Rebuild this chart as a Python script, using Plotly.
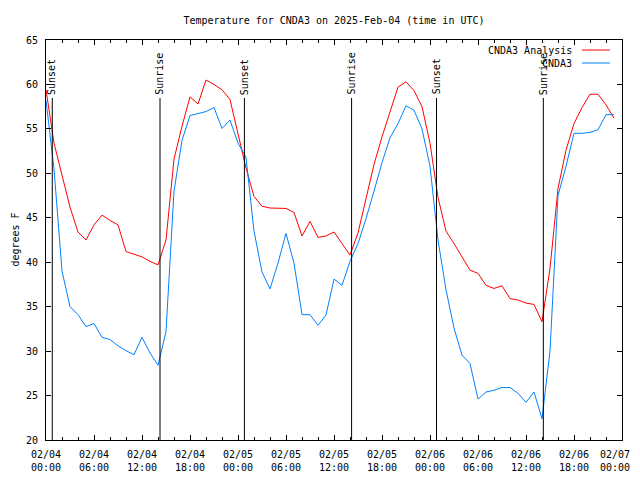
import pandas as pd
import plotly.graph_objects as go

start_time = "2025-02-04 00:00"
analysis_temp = [59.4, 53.4, 49.8, 46.2, 43.4, 42.5, 44.2, 45.3, 44.7, 44.2, 41.2, 40.9,
                 40.6, 40.1, 39.7, 42.5, 51.6, 55.3, 58.6, 57.8, 60.5, 60.0, 59.4, 58.3,
                 54.6, 50.6, 47.4, 46.3, 46.1, 46.05, 46.05, 45.6, 42.95, 44.6, 42.8, 42.95,
                 43.4, 42.1, 40.8, 43.3, 47.1, 51.0, 54.1, 56.9, 59.7, 60.3, 59.3, 57.5,
                 53.4, 47.3, 43.5, 42.1, 40.6, 39.1, 38.75, 37.4, 37.05, 37.35, 35.9, 35.75,
                 35.4, 35.25, 33.3, 39.3, 48.3, 52.6, 55.6, 57.4, 58.9, 58.9, 57.7, 56.2]
obs_temp = [58.2, 50.5, 39.0, 35.0, 34.1, 32.75, 33.1, 31.55, 31.3, 30.6, 30.05, 29.6,
            31.55, 29.8, 28.4, 32.2, 48.0, 53.7, 56.5, 56.7, 56.95, 57.4, 55.05, 56.0,
            53.4, 51.8, 43.5, 38.9, 37.0, 39.9, 43.25, 39.9, 34.1, 34.1, 32.9, 34.06,
            38.1, 37.4, 40.1, 42.1, 44.9, 48.0, 51.2, 54.0, 55.6, 57.6, 57.1, 55.0,
            50.8, 42.5, 36.9, 32.6, 29.55, 28.6, 24.6, 25.4, 25.6, 25.9, 25.9, 25.25,
            24.25, 25.4, 22.4, 30.0, 47.5, 50.8, 54.5, 54.5, 54.6, 54.9, 56.6, 56.6]
times = pd.date_range(start_time, periods=len(analysis_temp), freq="h")

sun_events = ["Sunset", "Sunrise", "Sunset", "Sunrise", "Sunset", "Sunrise"]
sun_times = ["2025-02-04 00:47", "2025-02-04 14:15", "2025-02-05 00:48",
             "2025-02-05 14:12", "2025-02-06 00:49", "2025-02-06 14:10"]

tick_vals = ["2025-02-04 00:00", "2025-02-04 06:00", "2025-02-04 12:00", "2025-02-04 18:00",
             "2025-02-05 00:00", "2025-02-05 06:00", "2025-02-05 12:00", "2025-02-05 18:00",
             "2025-02-06 00:00", "2025-02-06 06:00", "2025-02-06 12:00", "2025-02-06 18:00",
             "2025-02-07 00:00"]
tick_text = ["02/04<br>00:00", "02/04<br>06:00", "02/04<br>12:00", "02/04<br>18:00",
             "02/05<br>00:00", "02/05<br>06:00", "02/05<br>12:00", "02/05<br>18:00",
             "02/06<br>00:00", "02/06<br>06:00", "02/06<br>12:00", "02/06<br>18:00",
             "02/07<br>00:00"]
series_names = ["CNDA3 Analysis", "CNDA3"]
series_colors = ["#ff0000", "#0080ff"]

FONT = "DejaVu Sans Mono"

fig = go.Figure()
fig.add_trace(go.Scatter(x=times, y=analysis_temp, mode="lines", name=series_names[0],
                         line=dict(color=series_colors[0], width=1)))
fig.add_trace(go.Scatter(x=times, y=obs_temp, mode="lines", name=series_names[1],
                         line=dict(color=series_colors[1], width=1)))

shapes = []
annotations = []
for ev, t in zip(sun_events, sun_times):
    shapes.append(dict(type="line", xref="x", yref="paper", x0=t, x1=t, y0=0, y1=0.855,
                       line=dict(color="black", width=1)))
    annotations.append(dict(text=ev, x=t, xref="x", y=0.858, yref="paper",
                            xanchor="center", yanchor="bottom", textangle=-90,
                            showarrow=False, font=dict(family=FONT, size=10, color="black")))

# x tick labels placed at the tick values (last one nudged inside the page, as in the original)
for i, (tv, tt) in enumerate(zip(tick_vals, tick_text)):
    annotations.append(dict(text=tt, x=tv, xref="x", y=-0.0175, yref="paper",
                            xanchor="center", yanchor="top", showarrow=False,
                            xshift=-7 if i == len(tick_vals) - 1 else 0,
                            font=dict(family=FONT, size=10, color="black")))

# manual legend (text right-aligned, sample after it)
legend_y = [0.975, 0.9425]
for name, col, ly in zip(series_names, series_colors, legend_y):
    annotations.append(dict(text=name, x=0.917, xref="paper", y=ly, yref="paper",
                            xanchor="right", yanchor="middle", showarrow=False,
                            font=dict(family=FONT, size=10, color="black")))
    shapes.append(dict(type="line", xref="paper", yref="paper", x0=0.9306, x1=0.979,
                       y0=ly, y1=ly, line=dict(color=col, width=1)))

annotations.append(dict(text="degrees F", x=-0.0545, xref="paper",
                        y=0.5, yref="paper", showarrow=False, textangle=-90,
                        xanchor="center", yanchor="middle",
                        font=dict(family=FONT, size=10, color="black")))

# page body has an 8px margin, so the figure is 8px smaller and margins shifted
fig.update_layout(
    width=632, height=472,
    margin=dict(l=38, r=18, t=32, b=40, autoexpand=False),
    paper_bgcolor="white", plot_bgcolor="white",
    showlegend=False,
    title=dict(text="Temperature for CNDA3 on 2025-Feb-04 (time in UTC)", x=0.5, xref="paper",
               xanchor="center", y=1 - 12 / 472, yanchor="middle",
               font=dict(family=FONT, size=10, color="black")),
    font=dict(family=FONT, size=10, color="black"),
    shapes=shapes, annotations=annotations,
)
fig.update_xaxes(range=["2025-02-04 00:00", "2025-02-07 00:00"], tickvals=tick_vals,
                 showticklabels=False,
                 ticks="inside", ticklen=5, tickcolor="black", showline=True, linecolor="black",
                 linewidth=1, mirror="ticks", showgrid=False, zeroline=False,
                 minor=dict(ticks="inside", ticklen=3, dtick=2 * 3600 * 1000, tickcolor="black", showgrid=False))
fig.update_yaxes(range=[20, 65], dtick=5, ticks="inside", ticklen=5, tickcolor="black",
                 showline=True, linecolor="black", linewidth=1, mirror="ticks", showgrid=False,
                 zeroline=False, ticklabelstandoff=5, tickfont=dict(family=FONT, size=10, color="black"))

fig.write_html("out.html")
